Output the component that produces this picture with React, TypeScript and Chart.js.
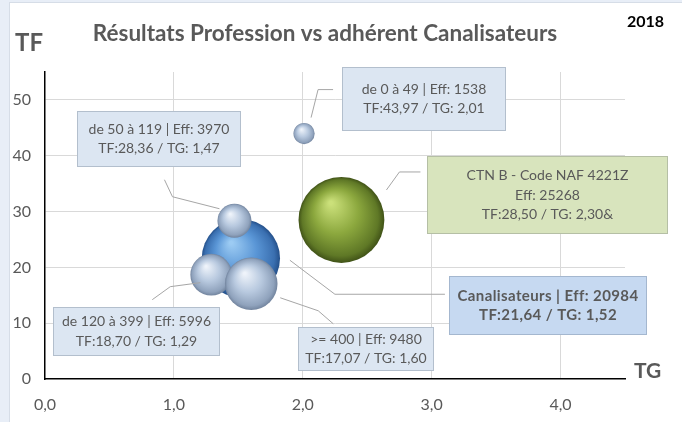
import React, { useEffect, useRef } from 'react';
import { Chart, registerables } from 'chart.js';

Chart.register(...registerables);

// ---- Data ----
const groups = ['Canalisateurs', 'de 50 à 119', 'de 120 à 399', '>= 400', 'de 0 à 49', 'CTN B - Code NAF 4221Z'];
const tgValues = [1.52, 1.47, 1.29, 1.6, 2.01, 2.3];
const tfValues = [21.64, 28.36, 18.7, 17.07, 43.97, 28.5];
const effectifs = [20984, 3970, 5996, 9480, 1538, 25268];
const labelLines = [
  ['Canalisateurs | Eff: 20984', 'TF:21,64 / TG: 1,52'],
  ['de 50 à 119 | Eff: 3970', 'TF:28,36 / TG: 1,47'],
  ['de 120 à 399 | Eff: 5996', 'TF:18,70 / TG: 1,29'],
  ['>= 400 | Eff: 9480', 'TF:17,07 / TG: 1,60'],
  ['de 0 à 49 | Eff: 1538', 'TF:43,97 / TG: 2,01'],
  ['CTN B - Code NAF 4221Z', 'Eff: 25268', 'TF:28,50 / TG: 2,30&'],
];
const chartTitle = 'Résultats Profession vs adhérent Canalisateurs';
const yAxisTitle = 'TF';
const xAxisTitle = 'TG';
const yearLabel = '2018';

// ---- Styles ----
const FONT = 'Lato, "Open Sans", sans-serif';
const TEXT = '#595959';
const BUBBLE_SCALE = 0.27; // radius = k * sqrt(Eff)

const palettes: Record<string, string[]> = {
  blue: ['#9ccbf3', '#5a96d6', '#3a6fb0', '#24508a'],
  light: ['#eef3fa', '#b8c9df', '#8fa2bc', '#72849e'],
  green: ['#cbe07a', '#8ca83e', '#5f7826', '#405217'],
};
const pointPalette = ['blue', 'light', 'light', 'light', 'light', 'green'];

const annotLayout = [
  { box: [208, 18, 197, 58], path: [[49, 2], [94, 36], [204, 36]], fill: '#c6d9f1', stroke: '#a4b7cf', bold: true },
  { box: [-157, -110, 163, 55], path: [[-15, -12], [-62, -24], [-70, -41]], fill: '#dce6f2', stroke: '#b3bfcd', bold: false },
  { box: [-158, 32, 166, 48], path: [[-11, 8], [-41, 12], [-59, 25]], fill: '#dce6f2', stroke: '#b3bfcd', bold: false },
  { box: [47, 43, 135, 43], path: [[29, 14], [67, 27], [82, 40]], fill: '#dce6f2', stroke: '#b3bfcd', bold: false },
  { box: [38, -67, 163, 63], path: [[7, -16], [14, -44], [29, -44]], fill: '#dce6f2', stroke: '#b3bfcd', bold: false },
  { box: [86, -64, 240, 77], path: [[45, -30], [58, -48], [79, -48]], fill: '#d8e4bd', stroke: '#b5bfa5', bold: false },
];

function ballFill(ctx: any) {
  const chart = ctx.chart;
  const pal = palettes[pointPalette[ctx.dataIndex]] || palettes.light;
  if (ctx.type !== 'data' || !chart.chartArea || !chart.scales || !chart.scales.x) return pal[1];
  const raw = ctx.raw;
  const x = chart.scales.x.getPixelForValue(raw.x);
  const y = chart.scales.y.getPixelForValue(raw.y);
  const r = raw.r;
  if (![x, y, r].every((v) => Number.isFinite(v))) return pal[1];
  const g = chart.ctx.createRadialGradient(x - r * 0.25, y - r * 0.4, r * 0.04, x, y, r);
  g.addColorStop(0, pal[0]);
  g.addColorStop(0.5, pal[1]);
  g.addColorStop(0.88, pal[2]);
  g.addColorStop(1, pal[3]);
  return g;
}

const decor = {
  id: 'decor',
  beforeDraw(chart: any) {
    const c = chart.ctx;
    c.save();
    c.fillStyle = '#e8eef7';
    c.fillRect(0, 0, chart.width, chart.height);
    c.fillStyle = '#ffffff';
    c.fillRect(9, 2, chart.width - 9, chart.height - 2);
    c.strokeStyle = '#d6dde7';
    c.lineWidth = 1;
    c.strokeRect(9.5, 2.5, chart.width - 9, chart.height);
    c.restore();
  },
  afterDatasetsDraw(chart: any) {
    const c = chart.ctx;
    const xs = chart.scales.x;
    const ys = chart.scales.y;
    c.save();
    annotLayout.forEach((a, i) => {
      const cx = xs.getPixelForValue(tgValues[i]);
      const cy = ys.getPixelForValue(tfValues[i]);
      c.strokeStyle = '#a6a6a6';
      c.lineWidth = 1;
      c.beginPath();
      a.path.forEach((p, k) => {
        const px = cx + p[0];
        const py = cy + p[1];
        if (k === 0) c.moveTo(px, py);
        else c.lineTo(px, py);
      });
      c.stroke();
      const bx = Math.round(cx + a.box[0]) + 0.5;
      const by = Math.round(cy + a.box[1]) + 0.5;
      const bw = a.box[2];
      const bh = a.box[3];
      c.fillStyle = a.fill;
      c.fillRect(bx, by, bw, bh);
      c.strokeStyle = a.stroke;
      c.strokeRect(bx, by, bw, bh);
      const lines = labelLines[i];
      const lh = 19.5;
      c.fillStyle = TEXT;
      c.font = a.bold ? `bold 15px ${FONT}` : `14px ${FONT}`;
      (c as any).letterSpacing = a.bold ? '0.4px' : '0px';
      c.textAlign = 'center';
      c.textBaseline = 'middle';
      const startY = by + bh / 2 - ((lines.length - 1) * lh) / 2;
      lines.forEach((t, k) => c.fillText(t, bx + bw / 2, startY + k * lh));
      (c as any).letterSpacing = '0px';
    });
    c.restore();
  },
  afterDraw(chart: any) {
    const c = chart.ctx;
    c.save();
    c.textBaseline = 'alphabetic';
    c.fillStyle = TEXT;
    c.font = `bold 22.5px ${FONT}`;
    c.textAlign = 'center';
    c.fillText(chartTitle, 325, 41);
    c.font = `bold 24px ${FONT}`;
    c.textAlign = 'left';
    c.fillText(yAxisTitle, 15, 51);
    c.font = `bold 21px ${FONT}`;
    c.fillText(xAxisTitle, 634, 378);
    c.fillStyle = '#000';
    c.font = `bold 16px ${FONT}`;
    c.textAlign = 'right';
    c.fillText(yearLabel, 664, 27);
    c.restore();
  },
};

export default function App() {
  const ref = useRef<HTMLCanvasElement>(null);
  useEffect(() => {
    document.body.style.margin = '0';
    const data = tgValues.map((x, i) => ({ x, y: tfValues[i], r: BUBBLE_SCALE * Math.sqrt(effectifs[i]) }));
    const chart = new Chart(ref.current as HTMLCanvasElement, {
      type: 'bubble',
      data: {
        labels: groups,
        datasets: [
          {
            label: 'Effectifs',
            data,
            backgroundColor: ballFill,
            borderWidth: 0,
            hoverBorderWidth: 0,
          } as any,
        ],
      },
      options: {
        responsive: false,
        animation: false,
        events: [],
        layout: { padding: { top: 72, right: 57, left: 0, bottom: 0 } },
        plugins: { legend: { display: false }, tooltip: { enabled: false }, title: { display: false } },
        scales: {
          x: {
            type: 'linear',
            min: 0,
            max: 4.5,
            afterFit: (s: any) => { s.height = 39; },
            ticks: {
              stepSize: 1,
              includeBounds: false,
              color: TEXT,
              font: { size: 16, family: FONT },
              padding: 16,
              callback: (v: any) => Number(v).toFixed(1).replace('.', ','),
            },
            grid: {
              color: (ctx: any) => (ctx.tick && ctx.tick.value === 0 ? 'rgba(0,0,0,0)' : '#d9d9d9'),
              drawTicks: false,
              lineWidth: 1,
            },
            border: { color: '#000', width: 1.5 },
          },
          y: {
            type: 'linear',
            min: 0,
            max: 55,
            afterFit: (s: any) => { s.width = 45; },
            ticks: {
              stepSize: 10,
              includeBounds: false,
              color: TEXT,
              font: { size: 16, family: FONT },
              padding: 14,
            },
            grid: {
              color: (ctx: any) => (ctx.tick && ctx.tick.value === 0 ? 'rgba(0,0,0,0)' : '#d9d9d9'),
              drawTicks: false,
              lineWidth: 1,
            },
            border: { color: '#000', width: 1.5 },
          },
        },
      } as any,
      plugins: [decor],
    });
    return () => chart.destroy();
  }, []);
  return <canvas ref={ref} width={682} height={422} style={{ display: 'block' }} />;
}
